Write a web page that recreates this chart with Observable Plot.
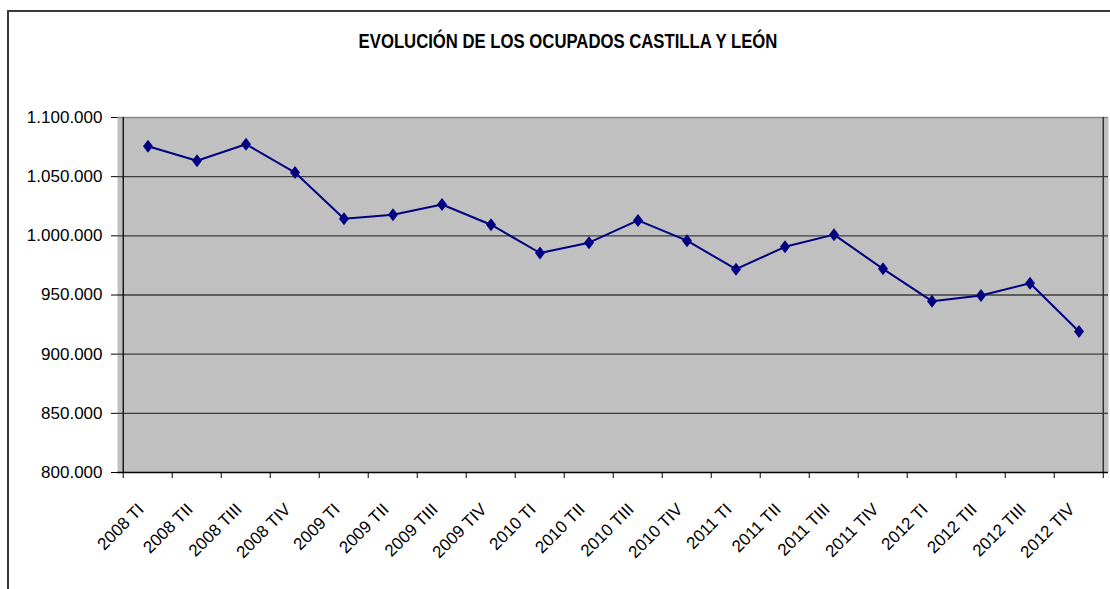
<!DOCTYPE html>
<html>
<head>
<meta charset="utf-8">
<script src="https://cdn.jsdelivr.net/npm/d3@7"></script>
<script src="https://cdn.jsdelivr.net/npm/@observablehq/plot@0.6"></script>
<style>
  html, body { margin: 0; padding: 0; background: #fff; overflow: hidden; }
  #wrap { position: relative; width: 1110px; height: 589px; font-family: "Liberation Sans", Arial, sans-serif; }
  #frame { position: absolute; left: 7px; top: 10px; width: 1200px; height: 700px; border: 2px solid #3a3a3a; pointer-events: none; z-index: 2; }
  #title { position: absolute; left: 0; top: 31px; width: 1136px; text-align: center; font-size: 20px; line-height: 20px; font-weight: bold; color: #000; transform: scaleX(0.835); transform-origin: 568px 0; z-index: 3; }
  #chart { position: absolute; left: 0; top: 0; z-index: 1; }
</style>
</head>
<body>
<div id="wrap">
  <div id="frame"></div>
  <div id="title">EVOLUCIÓN DE LOS OCUPADOS CASTILLA Y LEÓN</div>
  <div id="chart"></div>
</div>
<script>
const quarters = ["2008 TI","2008 TII","2008 TIII","2008 TIV",
                  "2009 TI","2009 TII","2009 TIII","2009 TIV",
                  "2010 TI","2010 TII","2010 TIII","2010 TIV",
                  "2011 TI","2011 TII","2011 TIII","2011 TIV",
                  "2012 TI","2012 TII","2012 TIII","2012 TIV"];
const ocupados = [1075700, 1063400, 1077400, 1053500,
                  1014400, 1017800, 1026500, 1009400,
                  985500, 994200, 1013000, 995900,
                  971800, 990700, 1001000, 972100,
                  944800, 949600, 960000, 919200];
const yTicks = [800000, 850000, 900000, 950000, 1000000, 1050000, 1100000];

const data = quarters.map((q, i) => ({q, v: ocupados[i]}));
const fmt = d3.formatLocale({decimal: ",", thousands: ".", grouping: [3], currency: ["", "€"]}).format(",d");

const W = 1110, H = 589, mL = 117, mR = 2, mT = 117, mB = 117;
const bw = (W - mL - mR) / quarters.length;

const diamond = {
  draw(ctx) {
    const h = 6.5, w = 5;
    ctx.moveTo(0, -h); ctx.lineTo(w, 0); ctx.lineTo(0, h); ctx.lineTo(-w, 0); ctx.closePath();
  }
};

const chart = Plot.plot({
  width: W, height: H,
  marginLeft: mL, marginRight: mR, marginTop: mT, marginBottom: mB,
  style: {background: "transparent", fontFamily: "'Liberation Sans', Arial, sans-serif", color: "#000"},
  x: {type: "band", domain: quarters, padding: 0},
  y: {domain: [800000, 1100000]},
  marks: [
    Plot.frame({fill: "#c0c0c0", stroke: "none"}),
    Plot.ruleY(yTicks.slice(1, -1), {stroke: "#3c3c3c", strokeWidth: 1.4}),
    Plot.ruleY([1100000], {stroke: "#888", strokeWidth: 1.5}),
    Plot.ruleX([quarters[quarters.length - 1]], {dx: bw / 2 - 0.5, stroke: "#333", strokeWidth: 1.5}),
    // boundary tick marks on x axis
    Plot.ruleX(quarters, {x: d => d, y1: 800000, y2: 794900, dx: -bw / 2, stroke: "#000"}),
    Plot.ruleX([quarters[quarters.length - 1]], {y1: 800000, y2: 794900, dx: bw / 2 - 0.5, stroke: "#000"}),
    Plot.ruleY([800000], {stroke: "#000", strokeWidth: 1.3}),
    Plot.ruleX([quarters[0]], {dx: -bw / 2, stroke: "#000", strokeWidth: 1.3}),
    Plot.axisY({ticks: yTicks, tickFormat: fmt, tickSize: 6, tickPadding: 9, fontSize: 17, label: null, stroke: "#000"}),
    Plot.axisX({tickSize: 0, tickRotate: -45, tickPadding: 34, dx: -7, fontSize: 17, label: null}),
    Plot.line(data, {x: "q", y: "v", stroke: "#000080", strokeWidth: 2}),
    Plot.dot(data, {x: "q", y: "v", symbol: diamond, r: 5, fill: "#000080", stroke: "none"})
  ]
});
document.getElementById("chart").appendChild(chart);
</script>
</body>
</html>
